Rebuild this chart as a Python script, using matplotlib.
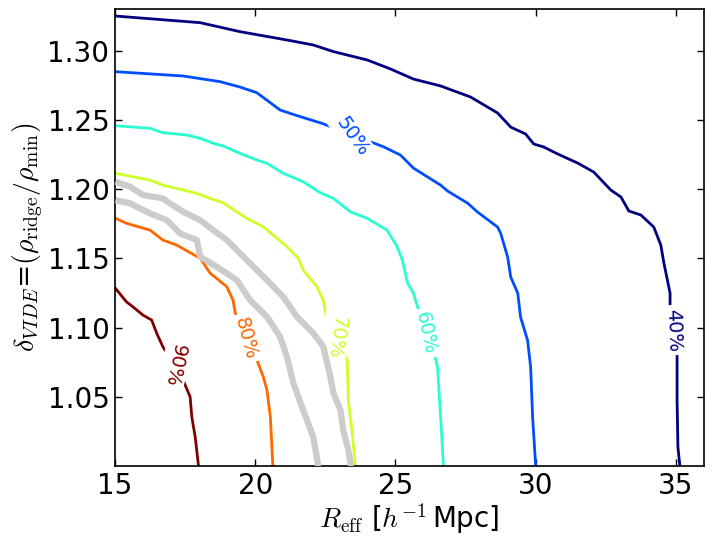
import numpy as np
import matplotlib
matplotlib.use('Agg')
import matplotlib.pyplot as plt

plt.rcParams['mathtext.fontset'] = 'cm'
plt.rcParams['font.family'] = 'DejaVu Sans'

# contour paths (R_eff, delta)
x40 = [15.02, 18.04, 19.46, 21.13, 22.07, 22.79, 23.99, 24.82, 25.64, 26.61, 27.68, 28.64, 29.11,
       29.64, 29.93, 30.29, 30.79, 31.50, 32.07, 32.68, 33.04, 33.32, 33.75, 34.21, 34.46, 34.57,
       34.71, 34.79, 34.79, 35.04, 35.04, 35.07, 35.14]
y40 = [1.3251, 1.3203, 1.3138, 1.3078, 1.3042, 1.2994, 1.2934, 1.2869, 1.2796, 1.2746, 1.2666,
       1.2551, 1.2449, 1.2399, 1.2327, 1.2305, 1.2254, 1.2189, 1.2124, 1.1994, 1.1944, 1.1843,
       1.1814, 1.1727, 1.1597, 1.1467, 1.1329, 1.1250, 1.1105, 1.0838, 1.0477, 1.0137, 1.0]

x50 = [15.02, 17.43, 18.75, 19.46, 20.06, 20.89, 21.61, 22.38, 24.57, 25.18, 25.64, 26.61, 26.86,
       27.57, 27.93, 28.64, 28.75, 29.00, 29.11, 29.36, 29.46, 29.71, 29.82, 29.89, 30.00]
y50 = [1.2849, 1.2818, 1.2777, 1.2738, 1.2697, 1.2572, 1.2524, 1.2476, 1.2307, 1.2247, 1.2153,
       1.2030, 1.1987, 1.1900, 1.1835, 1.1727, 1.1683, 1.1510, 1.1366, 1.1250, 1.1077, 1.0910,
       1.0715, 1.0354, 1.0]

x60 = [15.02, 16.25, 16.71, 17.56, 18.04, 18.50, 18.86, 19.46, 20.06, 20.42, 21.00, 21.71, 22.32,
       22.79, 23.39, 23.99, 24.70, 25.06, 25.25, 25.43, 25.64, 25.79, 26.36, 26.50, 26.61, 26.71]
y60 = [1.2459, 1.2440, 1.2408, 1.2392, 1.2368, 1.2332, 1.2312, 1.2259, 1.2211, 1.2187, 1.2115,
       1.2054, 1.1975, 1.1934, 1.1837, 1.1790, 1.1705, 1.1585, 1.1488, 1.1322, 1.1250, 1.1149,
       1.0838, 1.0715, 1.0354, 1.0]

x70 = [15.02, 16.25, 16.71, 17.92, 18.39, 18.86, 19.70, 20.29, 20.64, 21.13, 21.54, 21.71, 22.20,
       22.43, 22.56, 23.28, 23.32, 23.45, 23.57]
y70 = [1.2115, 1.2066, 1.2030, 1.1970, 1.1934, 1.1902, 1.1790, 1.1729, 1.1669, 1.1585, 1.1501,
       1.1416, 1.1296, 1.1199, 1.1055, 1.0766, 1.0477, 1.0260, 1.0]

x80 = [15.02, 15.41, 16.25, 16.71, 17.20, 18.04, 18.39, 18.99, 19.21, 19.29, 20.06, 20.29, 20.42,
       20.54, 20.63]
y80 = [1.1790, 1.1754, 1.1705, 1.1633, 1.1597, 1.1501, 1.1395, 1.1296, 1.1199, 1.1105, 1.0766,
       1.0645, 1.0549, 1.0356, 1.0]

x90 = [15.02, 15.41, 15.64, 16.00, 16.31, 16.49, 16.71, 17.43, 17.68, 17.74, 17.86, 17.98]
y90 = [1.1284, 1.1187, 1.1151, 1.1091, 1.1055, 1.0959, 1.0862, 1.0621, 1.0501, 1.0356, 1.0212, 1.0]

# two grey reference curves
xg1 = [15.02, 15.54, 16.00, 16.71, 16.96, 17.43, 18.04, 18.50, 18.99, 19.46, 19.94, 20.42, 21.00,
       21.49, 22.07, 22.43, 22.68, 22.79, 23.04, 23.14, 23.32, 23.42]
yg1 = [1.2054, 1.2018, 1.1958, 1.1934, 1.1898, 1.1837, 1.1777, 1.1705, 1.1633, 1.1537, 1.1440,
       1.1344, 1.1223, 1.1079, 1.0961, 1.0862, 1.0645, 1.0527, 1.0405, 1.0260, 1.0116, 1.0]
xg2 = [15.02, 15.54, 16.25, 16.85, 17.32, 17.92, 18.04, 18.63, 19.35, 19.82, 20.42, 20.89, 21.13,
       21.36, 21.71, 22.07, 22.25]
yg2 = [1.1922, 1.1898, 1.1826, 1.1777, 1.1681, 1.1633, 1.1512, 1.1440, 1.1344, 1.1199, 1.1079,
       1.0934, 1.0790, 1.0600, 1.0405, 1.0212, 1.0]

levels = ['40%', '50%', '60%', '70%', '80%', '90%']
curves = [(x40, y40), (x50, y50), (x60, y60), (x70, y70), (x80, y80), (x90, y90)]
label_pos = [(34.92, 1.0983), (23.45, 1.2379), (26.07, 1.0959),
             (22.86, 1.0934), (19.64, 1.0923), (17.14, 1.0730)]
label_rot = [-88, -55, -78, -98, -75, -102]

cmap = plt.get_cmap('jet')
colors = [cmap(v) for v in np.linspace(0, 1, len(levels))]

fig = plt.figure(figsize=(7.14, 5.44), dpi=100)
ax = fig.add_axes([0.161, 0.143, 0.825, 0.840])

# grey curves on top so label boxes don't cut them
ax.plot(xg1, yg1, color='0.8', lw=4.5, solid_capstyle='butt', zorder=4)
ax.plot(xg2, yg2, color='0.8', lw=4.5, solid_capstyle='butt', zorder=4)

for (xs, ys), c, lab, pos, rot in zip(curves, colors, levels, label_pos, label_rot):
    ax.plot(xs, ys, color=c, lw=2)
    ax.text(pos[0], pos[1], lab, color=c, fontsize=14, rotation=rot,
            ha='center', va='center', rotation_mode='anchor',
            bbox=dict(facecolor='white', edgecolor='none', pad=2.5))

ax.set_xlim(15, 36)
ax.set_ylim(1.0, 1.33)
ax.set_xticks([15, 20, 25, 30, 35])
ax.set_yticks([1.05, 1.10, 1.15, 1.20, 1.25, 1.30])
ax.set_yticklabels(['1.05', '1.10', '1.15', '1.20', '1.25', '1.30'])
ax.tick_params(direction='in', length=5, width=1, labelsize=20, top=True, right=True, pad=4)
for sp in ax.spines.values():
    sp.set_linewidth(1.2)

ax.set_xlabel(r'$R_{\rm eff}$ [$h^{-1}\,$Mpc]', fontsize=20, labelpad=1)
ax.set_ylabel(r'$\delta_{VIDE}$=$(\rho_{\rm ridge}/\rho_{\rm min})$', fontsize=20, labelpad=2)

fig.savefig('out.png', dpi=100)
